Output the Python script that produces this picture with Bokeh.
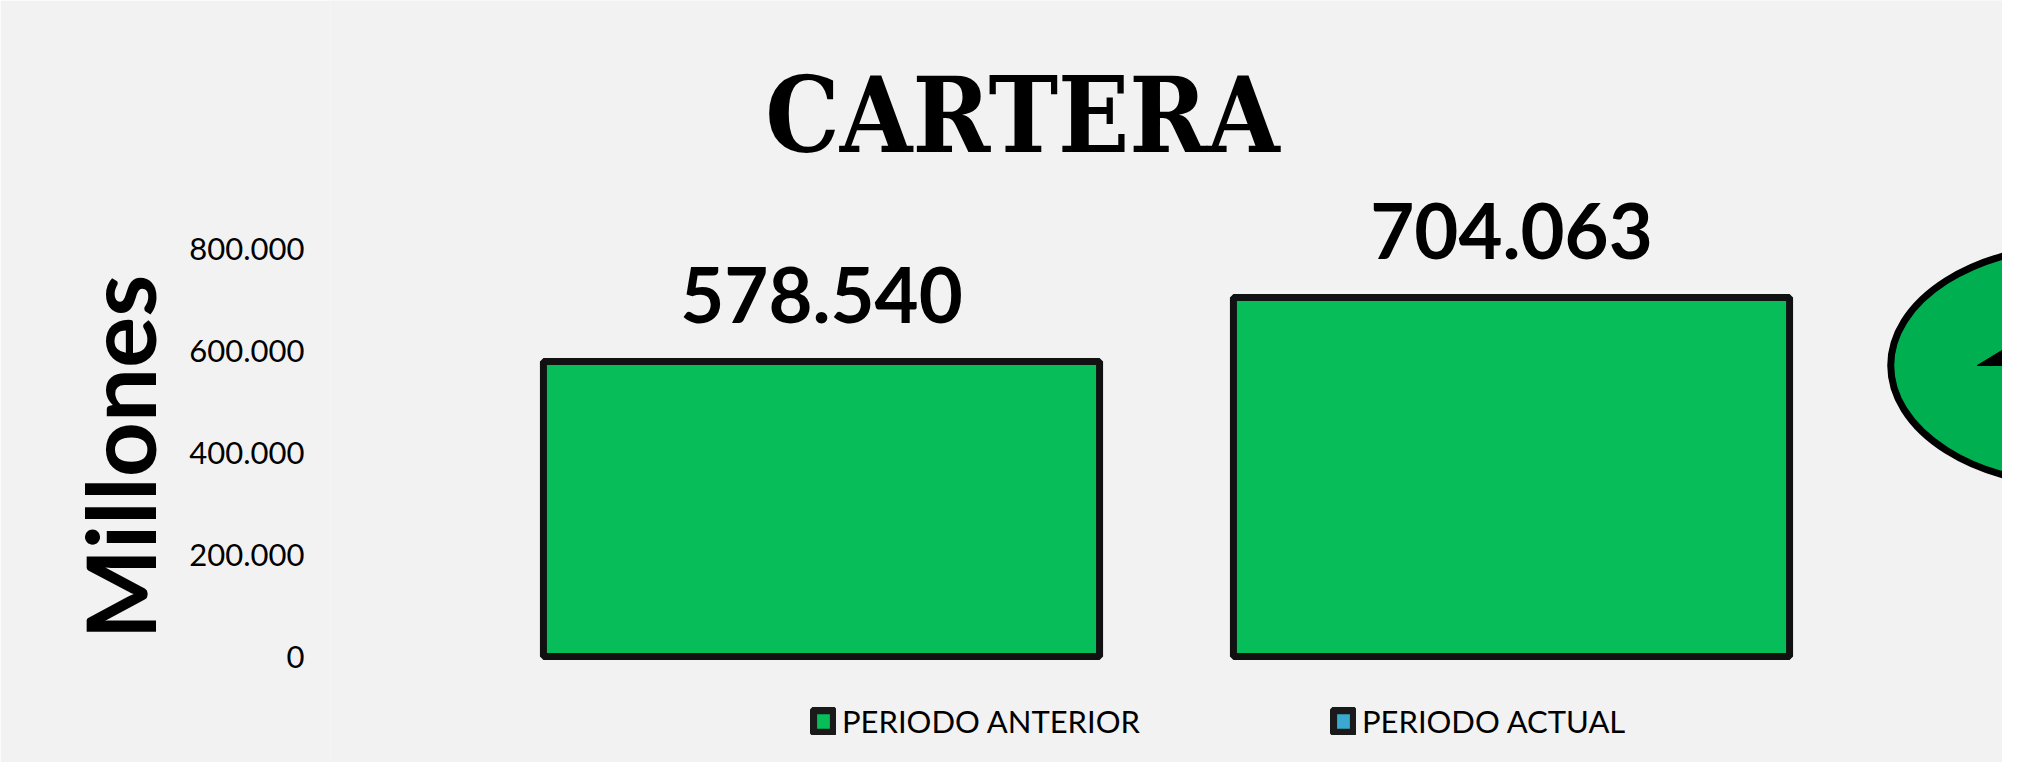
from bokeh.plotting import figure
from bokeh.models import (ColumnDataSource, FactorRange, Range1d, FixedTicker,
                          CustomJSTickFormatter, LabelSet, Label, Legend,
                          LegendItem, Title)
from bokeh.core.properties import value
from bokeh.embed import file_html
from bokeh.resources import INLINE

# ---------------- data ----------------
categories = ["PERIODO ANTERIOR", "PERIODO ACTUAL"]
values = [578540, 704063]
value_labels = [f"{v:,}".replace(",", ".") for v in values]
y_ticks = [0, 200000, 400000, 600000, 800000]
title_text = "CARTERA"
y_title = "Millones"

# ---------------- styles ----------------
BG = "#F2F2F2"
BAR_GREEN = "#07BD59"
IND_GREEN = "#00B050"
EDGE = "#111111"
LEG_BLUE = "#3BA9CF"
FONT = "Lato"

W, H = 2002, 762
LEFT = 330

p = figure(width=W, height=H, output_backend="svg", toolbar_location=None,
           x_range=FactorRange(*categories, range_padding=0.2116,
                               range_padding_units="absolute"),
           y_range=Range1d(-207843, 1286275),
           x_axis_location=None,
           min_border_left=LEFT, min_border_right=0,
           min_border_top=0, min_border_bottom=0,
           background_fill_color=BG, border_fill_color=BG,
           outline_line_color=None)
p.grid.visible = False

src = ColumnDataSource(dict(cat=categories, val=values, lab=value_labels))

bars = p.vbar(x="cat", top="val", width=0.806, source=src,
              fill_color=BAR_GREEN, line_color=EDGE, line_width=7)

# value labels above bars
p.add_layout(LabelSet(x="cat", y="val", text="lab", source=src,
                      y_offset=38, text_align="center",
                      text_baseline="alphabetic", text_font=value(FONT),
                      text_font_style="bold", text_font_size="76px",
                      text_color="black"))

# y axis
ax = p.yaxis[0]
ax.ticker = FixedTicker(ticks=y_ticks)
ax.formatter = CustomJSTickFormatter(
    code="return String(tick).replace(/\\B(?=(\\d{3})+(?!\\d))/g, '.');")
ax.axis_line_color = None
ax.major_tick_line_color = None
ax.minor_tick_line_color = None
ax.major_tick_out = 0
ax.major_tick_in = 0
ax.major_label_standoff = 26
ax.major_label_text_font = FONT
ax.major_label_text_font_size = "31px"
ax.major_label_text_color = "black"

# axis title (rotated, in the left panel)
p.add_layout(Title(text=y_title, align="right", offset=274,
                   vertical_align="middle", text_font=FONT,
                   text_font_style="bold", text_font_size="96px",
                   text_color="black", standoff=20), "left")

# chart title
p.add_layout(Label(x=692, y=647, x_units="screen", y_units="screen",
                   text=title_text, text_align="center",
                   text_baseline="middle",
                   text_font="'DejaVu Serif Condensed', 'DejaVu Serif', serif",
                   text_font_style="bold", text_font_size="104px",
                   text_color="black"))

# decorative indicator at the right edge (partly cut off)
p.ellipse(x=[2.325], y=[570588], width=380, height=240,
          width_units="screen", height_units="screen",
          fill_color=IND_GREEN, line_color="black", line_width=7)
p.patch(x=[2.175, 2.325, 2.474], y=[570588, 694118, 570588],
        fill_color="black", line_color="black")

# legend swatches (hidden renderers, only drawn in the legend)
leg_a = p.vbar(x="cat", top="val", width=0.5, source=src, visible=False,
               fill_color=BAR_GREEN, line_color="#1A1A1A", line_width=8)
leg_b = p.vbar(x="cat", top="val", width=0.5, source=src, visible=False,
               fill_color=LEG_BLUE, line_color="#1A1A1A", line_width=8)
legend = Legend(items=[LegendItem(label=categories[0], renderers=[leg_a]),
                       LegendItem(label=categories[1], renderers=[leg_b])],
                orientation="horizontal", location=(480, 22),
                glyph_width=26, glyph_height=28, label_standoff=6,
                spacing=190, padding=0, margin=0,
                border_line_color=None, background_fill_alpha=0,
                inactive_fill_alpha=0,
                label_text_font=FONT, label_text_font_size="31px",
                label_text_color="black")
p.add_layout(legend, "center")

open("out.html", "w").write(file_html(p, INLINE))
